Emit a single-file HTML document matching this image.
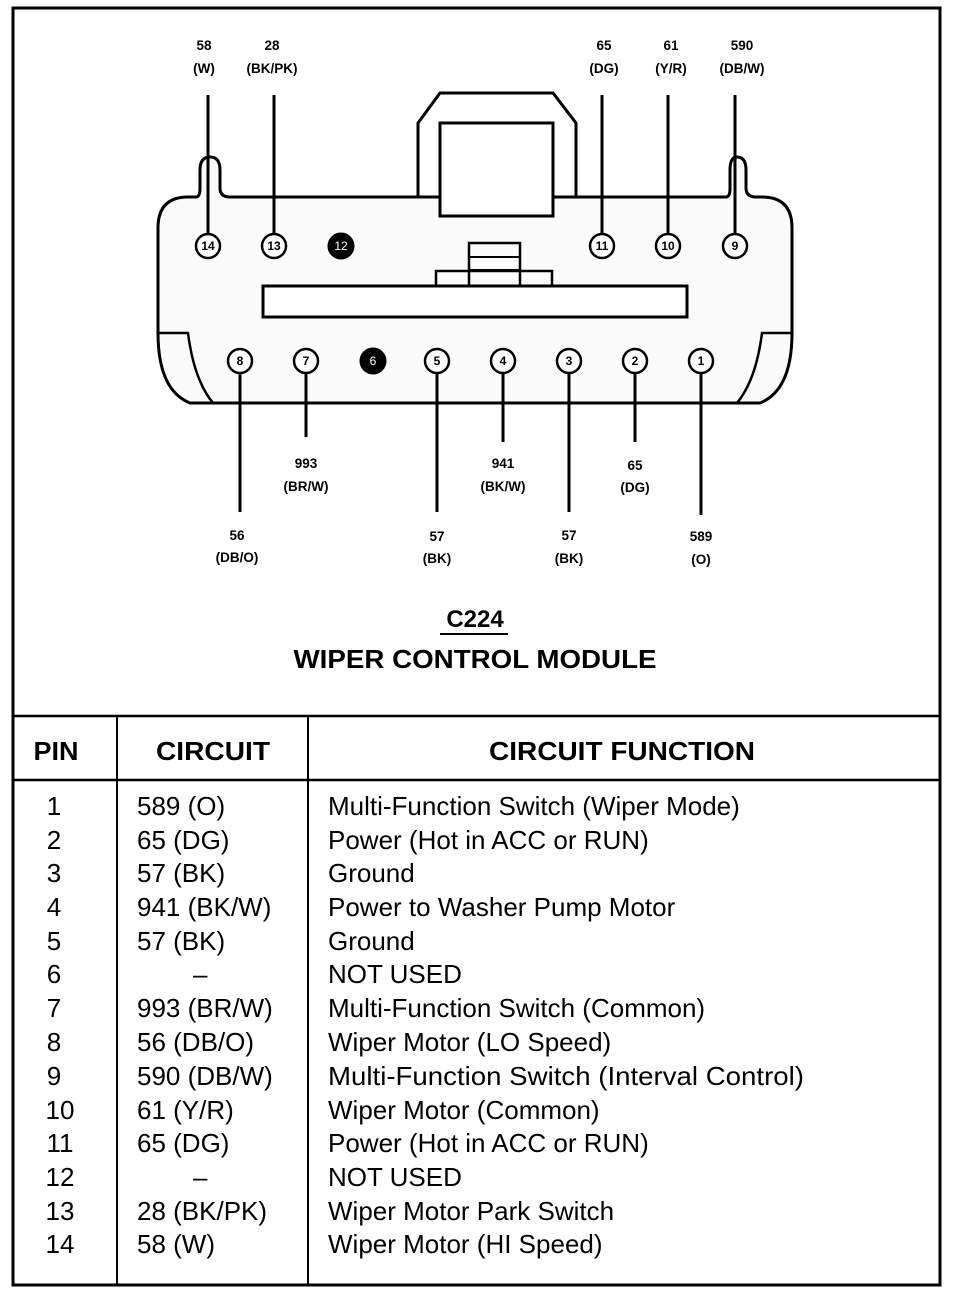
<!DOCTYPE html>
<html><head><meta charset="utf-8"><style>
html,body{margin:0;padding:0;background:#fff;}
svg{display:block;}
text{font-family:"Liberation Sans",sans-serif;fill:#000;}
.s{font-size:13.5px;text-anchor:middle;font-weight:bold;}
.t{font-size:26px;}
.h{font-size:26px;font-weight:bold;text-anchor:middle;}
.p{font-size:12px;text-anchor:middle;font-weight:bold;}
</style></head><body>
<svg width="960" height="1294" viewBox="0 0 960 1294" xmlns="http://www.w3.org/2000/svg">
<g fill="none" stroke="#000">
<path d="M13 8 H940 V1285 H13 Z" stroke-width="3"/>
<line x1="13" y1="716" x2="940" y2="716" stroke-width="2.5"/>
<line x1="13" y1="780" x2="940" y2="780" stroke-width="2.5"/>
<line x1="117" y1="716" x2="117" y2="1285" stroke-width="2"/>
<line x1="308" y1="716" x2="308" y2="1285" stroke-width="2"/>
<path d="M158 228 Q158 197 188 197 H196 Q200 197 200 188 V170 Q200 157 210 157 Q220 157 220 170 V188 Q220 197 230 197 H726 Q730 197 730 188 V170 Q730 157 737 157 Q746 157 746 170 V188 Q746 197 756 197 H762 Q792 197 792 228 V333 Q792 390 760 403 H190 Q158 390 158 333 Z" stroke-width="3" fill="#fbfbfb"/>
<path d="M158 333 H188 Q194 380 213 403" stroke-width="2.5"/>
<path d="M792 333 H762 Q756 380 737 403" stroke-width="2.5"/>
<path d="M418 197 V123 L440 93 H553 L576 123 V197" stroke-width="3"/>
<rect x="440" y="123" width="113" height="93" stroke-width="3" fill="#fff"/>
<rect x="263" y="286" width="424" height="31" stroke-width="3" fill="#fff"/>
<rect x="436" y="271" width="116" height="15" stroke-width="2.5"/>
<rect x="469" y="243" width="51" height="43" stroke-width="2.5"/>
<line x1="469" y1="257" x2="520" y2="257" stroke-width="2"/>
<line x1="469" y1="270" x2="520" y2="270" stroke-width="2"/>
<g stroke-width="3">
<line x1="208" y1="95" x2="208" y2="234"/>
<line x1="274" y1="95" x2="274" y2="234"/>
<line x1="602" y1="95" x2="602" y2="234"/>
<line x1="668" y1="95" x2="668" y2="234"/>
<line x1="735" y1="95" x2="735" y2="234"/>
<line x1="240" y1="373" x2="240" y2="512"/>
<line x1="306" y1="373" x2="306" y2="437"/>
<line x1="437" y1="373" x2="437" y2="512"/>
<line x1="503" y1="373" x2="503" y2="442"/>
<line x1="569" y1="373" x2="569" y2="512"/>
<line x1="635" y1="373" x2="635" y2="442"/>
<line x1="701" y1="373" x2="701" y2="515"/>
</g>
<g stroke-width="2.5" fill="#fff">
<circle cx="208" cy="246" r="12"/><circle cx="274" cy="246" r="12"/>
<circle cx="602" cy="246" r="12"/><circle cx="668" cy="246" r="12"/><circle cx="735" cy="246" r="12"/>
<circle cx="240" cy="361" r="12"/><circle cx="306" cy="361" r="12"/>
<circle cx="437" cy="361" r="12"/><circle cx="503" cy="361" r="12"/><circle cx="569" cy="361" r="12"/>
<circle cx="635" cy="361" r="12"/><circle cx="701" cy="361" r="12"/>
</g>
<circle cx="341" cy="246" r="13" fill="#000"/>
<circle cx="373" cy="361" r="13" fill="#000"/>
<line x1="440" y1="634" x2="508" y2="634" stroke-width="2"/>
</g>
<g class="p">
<text x="208" y="250">14</text><text x="274" y="250">13</text><text x="341" y="250" style="fill:#fff;font-weight:normal">12</text>
<text x="602" y="250">11</text><text x="668" y="250">10</text><text x="735" y="250">9</text>
<text x="240" y="365">8</text><text x="306" y="365">7</text><text x="373" y="365" style="fill:#fff;font-weight:normal">6</text>
<text x="437" y="365">5</text><text x="503" y="365">4</text><text x="569" y="365">3</text><text x="635" y="365">2</text><text x="701" y="365">1</text>
</g>
<g class="s">
<text x="204" y="50">58</text><text x="204" y="73">(W)</text>
<text x="272" y="50">28</text><text x="272" y="73">(BK/PK)</text>
<text x="604" y="50">65</text><text x="604" y="73">(DG)</text>
<text x="671" y="50">61</text><text x="671" y="73">(Y/R)</text>
<text x="742" y="50">590</text><text x="742" y="73">(DB/W)</text>
<text x="306" y="468">993</text><text x="306" y="491">(BR/W)</text>
<text x="503" y="468">941</text><text x="503" y="491">(BK/W)</text>
<text x="635" y="470">65</text><text x="635" y="492">(DG)</text>
<text x="237" y="540">56</text><text x="237" y="562">(DB/O)</text>
<text x="437" y="541">57</text><text x="437" y="563">(BK)</text>
<text x="569" y="540">57</text><text x="569" y="563">(BK)</text>
<text x="701" y="541">589</text><text x="701" y="564">(O)</text>
</g>
<text x="475" y="627" class="h" style="font-size:24px">C224</text>
<text x="475" y="668" class="h" textLength="363" lengthAdjust="spacingAndGlyphs">WIPER CONTROL MODULE</text>
<text x="56" y="760" class="h" textLength="45" lengthAdjust="spacingAndGlyphs">PIN</text>
<text x="213" y="760" class="h" textLength="114" lengthAdjust="spacingAndGlyphs">CIRCUIT</text>
<text x="622" y="760" class="h" textLength="266" lengthAdjust="spacingAndGlyphs">CIRCUIT FUNCTION</text>
<g class="t">
<g text-anchor="middle">
<text x="54" y="815">1</text><text x="54" y="849">2</text><text x="54" y="882">3</text><text x="54" y="916">4</text><text x="54" y="950">5</text><text x="54" y="983">6</text><text x="54" y="1017">7</text><text x="54" y="1051">8</text><text x="54" y="1085">9</text><text x="60" y="1119">10</text><text x="60" y="1152">11</text><text x="60" y="1186">12</text><text x="60" y="1220">13</text><text x="60" y="1253">14</text>
</g>
<text x="137" y="815">589 (O)</text><text x="137" y="849">65 (DG)</text><text x="137" y="882">57 (BK)</text><text x="137" y="916">941 (BK/W)</text><text x="137" y="950">57 (BK)</text><text x="193" y="983">–</text><text x="137" y="1017">993 (BR/W)</text><text x="137" y="1051">56 (DB/O)</text><text x="137" y="1085">590 (DB/W)</text><text x="137" y="1119">61 (Y/R)</text><text x="137" y="1152">65 (DG)</text><text x="193" y="1186">–</text><text x="137" y="1220">28 (BK/PK)</text><text x="137" y="1253">58 (W)</text>
<text x="328" y="815">Multi-Function Switch (Wiper Mode)</text>
<text x="328" y="849">Power (Hot in ACC or RUN)</text>
<text x="328" y="882">Ground</text>
<text x="328" y="916">Power to Washer Pump Motor</text>
<text x="328" y="950">Ground</text>
<text x="328" y="983">NOT USED</text>
<text x="328" y="1017">Multi-Function Switch (Common)</text>
<text x="328" y="1051">Wiper Motor (LO Speed)</text>
<text x="328" y="1085" textLength="476" lengthAdjust="spacingAndGlyphs">Multi-Function Switch (Interval Control)</text>
<text x="328" y="1119">Wiper Motor (Common)</text>
<text x="328" y="1152">Power (Hot in ACC or RUN)</text>
<text x="328" y="1186">NOT USED</text>
<text x="328" y="1220">Wiper Motor Park Switch</text>
<text x="328" y="1253">Wiper Motor (HI Speed)</text>
</g>
</svg>
</body></html>
